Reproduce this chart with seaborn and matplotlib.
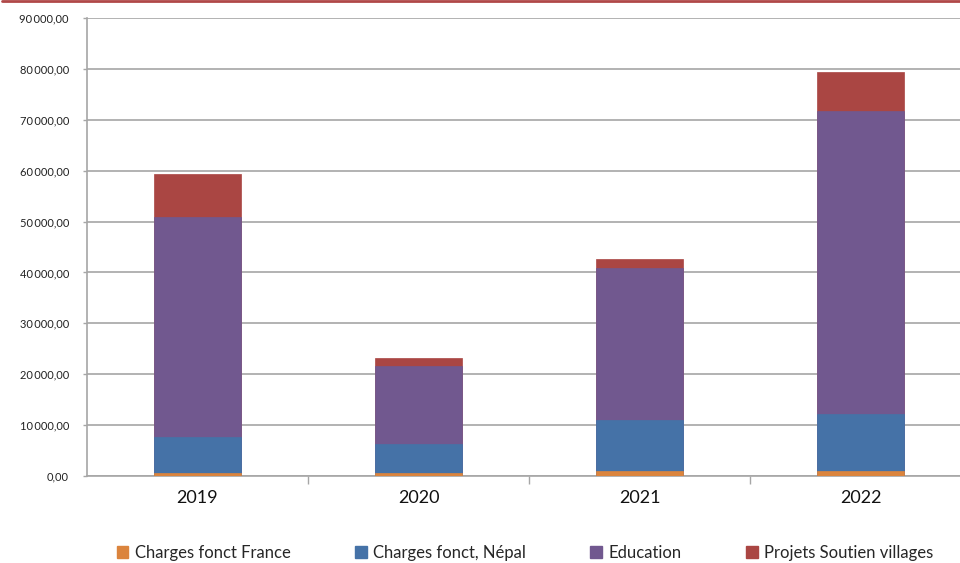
import matplotlib
matplotlib.use("Agg")
import matplotlib.pyplot as plt
import matplotlib.ticker as mticker
from matplotlib.lines import Line2D
from matplotlib.patches import Patch
import seaborn as sns
import pandas as pd
import numpy as np

years = ["2019", "2020", "2021", "2022"]
series_names = ["Charges fonct France", "Charges fonct, Népal", "Education", "Projets Soutien villages"]
france = [600, 650, 1000, 1000]
nepal = [7150, 5650, 10000, 11100]
education = [43200, 15350, 29900, 59650]
projets = [8300, 1600, 1800, 7550]
colors = ["#DB843D", "#4572A7", "#71588F", "#AA4643"]

sns.set_theme(style="white")
plt.rcParams["font.family"] = ["Lato", "DejaVu Sans"]

fig = plt.figure(figsize=(9.6, 5.63), dpi=100)
ax = fig.add_axes([87/960, 87/563, (960-87)/960, (476-18)/563])

layers = [france, nepal, education, projets]
cum = np.cumsum(np.array(layers, dtype=float), axis=0)

# draw from tallest cumulative to smallest so stacks show
for i in range(len(layers) - 1, -1, -1):
    df = pd.DataFrame({"year": years, "value": cum[i]})
    sns.barplot(data=df, x="year", y="value", color=colors[i], width=0.395,
                saturation=1, ax=ax, edgecolor=colors[i], linewidth=0.5, zorder=3)

ax.set_ylim(0, 90000)
ax.set_xlim(-0.5, 3.45)
ax.set_yticks(np.arange(0, 90001, 10000))
ax.yaxis.set_major_formatter(mticker.FuncFormatter(
    lambda v, p: f"{v:,.2f}".replace(",", "\u2009").replace(".", ",")))
ax.yaxis.grid(True, color="#A6A6A6", linewidth=1.2, zorder=0)
ax.set_axisbelow(True)
ax.set_xlabel("")
ax.set_ylabel("")

for s in ["top", "right"]:
    ax.spines[s].set_visible(False)
ax.spines["left"].set_color("#A6A6A6")
ax.spines["left"].set_linewidth(1.2)
ax.spines["bottom"].set_color("#A6A6A6")
ax.spines["bottom"].set_linewidth(1.2)

ax.tick_params(axis="y", which="major", length=3, width=1, color="#A6A6A6",
               labelsize=8, pad=10, left=True, labelcolor="#222222")
ax.tick_params(axis="x", which="major", length=0, labelsize=13, pad=10,
               labelcolor="#111111")
ax.set_xticks(range(len(years)))
ax.set_xticklabels(years)
ax.set_xticks([0.5, 1.5, 2.5], minor=True)
ax.tick_params(axis="x", which="minor", length=6, width=1, color="#A6A6A6",
               direction="out", bottom=True)

handles = [Patch(facecolor=c, edgecolor=c) for c in colors]
fig.legend(handles, series_names, loc="center", bbox_to_anchor=(0.547, 10/563),
           ncol=4, frameon=False, fontsize=12, handlelength=0.7, handleheight=0.7,
           handletextpad=0.4, columnspacing=3.85)

fig.add_artist(Line2D([2/960, 1], [1 - 1.2/563, 1 - 1.2/563], color="#B04848",
                      linewidth=2, transform=fig.transFigure))

fig.savefig("out.png", dpi=100)
